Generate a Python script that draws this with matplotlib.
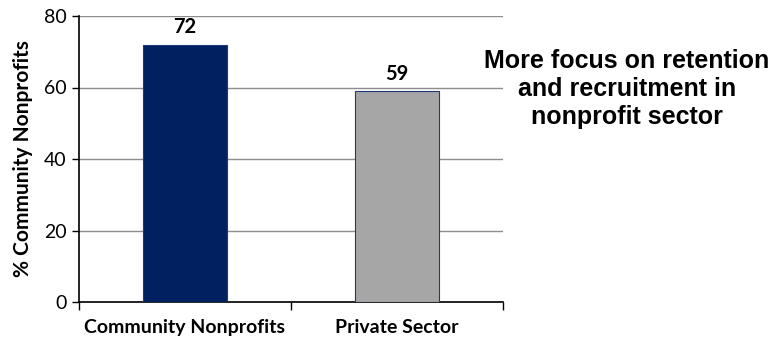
import matplotlib.pyplot as plt
import numpy as np

categories = ["Community Nonprofits", "Private Sector"]
values = [72, 59]
colors = ["#002060", "#A6A6A6"]
yticks = [0, 20, 40, 60, 80]
note = "More focus on retention\nand recruitment in\nnonprofit sector"

fig = plt.figure(figsize=(7.78, 3.41), dpi=100)
ax = fig.add_axes([79 / 778, 1 - 302 / 341, 424 / 778, 286 / 341])

x = np.arange(len(categories))
bars = ax.bar(x, values, width=0.4, color=colors, edgecolor="#1F3A7A",
              linewidth=0.8, zorder=3)
for b, v in zip(bars, values):
    ax.text(b.get_x() + b.get_width() / 2, v + 2.0, str(v), ha="center",
            va="bottom", fontsize=14.5, fontweight="bold", family="Lato")

ax.set_xlim(-0.5, 1.5)
ax.set_ylim(0, 80)
ax.set_yticks(yticks)
ax.set_yticklabels([str(t) for t in yticks], fontsize=14, family="Lato")
ax.yaxis.grid(True, color="#8C8C8C", linewidth=1.0, zorder=0)
ax.set_axisbelow(True)

# category labels centred, tick marks on category boundaries
ax.set_xticks([-0.5, 0.5, 1.5])
ax.set_xticklabels([])
ax.set_xticks(x, minor=True)
ax.set_xticklabels(categories, minor=True, fontsize=14, fontweight="bold",
                   family="Lato")
ax.tick_params(axis="x", which="minor", length=0, pad=12)
ax.tick_params(axis="x", which="major", length=6, width=1, direction="out")
ax.tick_params(axis="y", length=5, width=1, direction="out", pad=4)

ax.set_ylabel("% Community Nonprofits", fontsize=15, fontweight="bold",
              family="Lato", labelpad=8)

for s in ["top", "right"]:
    ax.spines[s].set_visible(False)
for s in ["left", "bottom"]:
    ax.spines[s].set_linewidth(1.2)

fig.text(627 / 778, 1 - 89 / 341, note, ha="center", va="center",
         fontsize=18, fontweight="bold", family="Liberation Sans",
         linespacing=1.2)

fig.savefig("out.png", dpi=100)
